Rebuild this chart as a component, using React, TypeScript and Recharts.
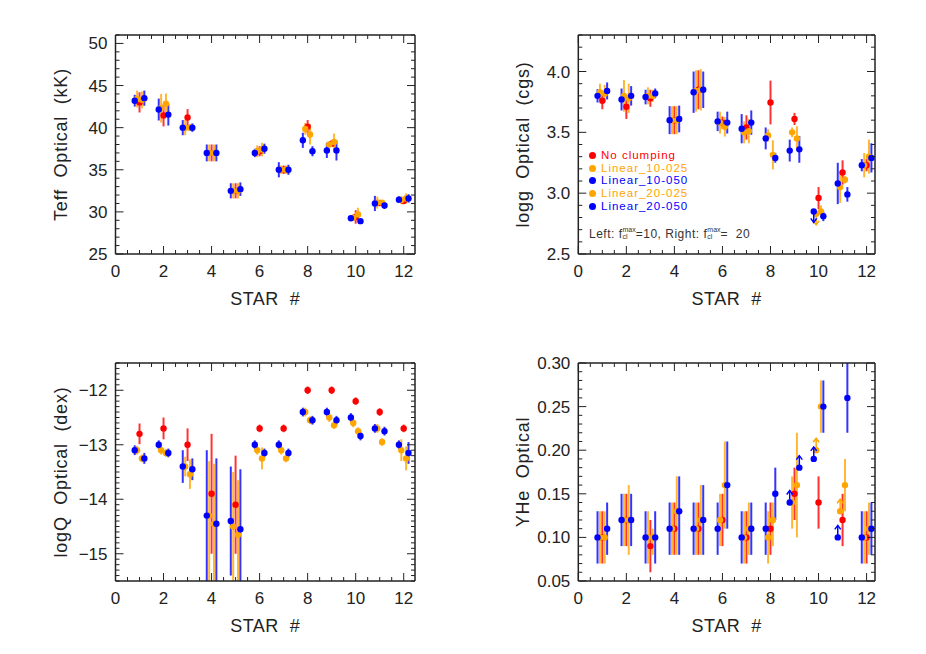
import React from 'react';
import { ScatterChart, Scatter, XAxis, YAxis, ErrorBar, Legend } from 'recharts';

type Err = number | [number, number];

const STARS = [1, 2, 3, 4, 5, 6, 7, 8, 9, 10, 11, 12];
const X_MAJOR = [0, 2, 4, 6, 8, 10, 12];

// model order = legend order
const MODELS = [
  { key: 'none', name: 'No clumping', color: '#ff0000', shift: 0 },
  { key: 'l10_025', name: 'Linear_10-025', color: '#ffa500', shift: -0.1 },
  { key: 'l10_050', name: 'Linear_10-050', color: '#0000ff', shift: -0.2 },
  { key: 'l20_025', name: 'Linear_20-025', color: '#ffa500', shift: 0.1 },
  { key: 'l20_050', name: 'Linear_20-050', color: '#0000ff', shift: 0.2 },
];

// Teff (kK)
const TEFF_TICKS = [25, 30, 35, 40, 45, 50];
const TEFF_NONE = [43.0, 41.45, 41.2, 37.0, 32.5, 37.2, 35.0, 40.1, 38.1, 29.4, 31.05, 31.3];
const TEFF_NONE_ERR: Err[] = [1.2, 1.3, 1.0, 1.0, 0.9, 0.6, 0.5, 0.8, 0.4, 0.8, 0.3, 0.3];
const TEFF_L10_025 = [43.4, 42.3, 40.0, 37.0, 32.5, 37.2, 35.0, 39.85, 38.0, 29.3, 31.1, 31.4];
const TEFF_L10_025_ERR: Err[] = [1.0, 1.7, 0.9, 1.0, 0.9, 0.7, 0.5, 0.7, 0.3, 0.4, 0.7, 0.5];
const TEFF_L10_050 = [43.2, 42.15, 40.0, 37.0, 32.5, 37.0, 35.0, 38.5, 37.3, 29.25, 31.0, 31.45];
const TEFF_L10_050_ERR: Err[] = [0.7, 1.3, 0.9, 1.0, 0.9, 0.5, 0.9, 0.9, 0.9, 0.2, 0.9, 0.4];
const TEFF_L20_025 = [43.3, 42.85, 40.0, 37.0, 32.5, 37.4, 35.0, 39.2, 38.3, 29.7, 31.1, 31.6];
const TEFF_L20_025_ERR: Err[] = [1.0, 1.2, 0.4, 1.0, 0.9, 0.8, 0.5, 1.2, 1.0, 0.8, 0.3, 0.6];
const TEFF_L20_050 = [43.5, 41.55, 40.0, 37.0, 32.7, 37.5, 35.0, 37.2, 37.3, 28.9, 30.75, 31.6];
const TEFF_L20_050_ERR: Err[] = [0.9, 1.3, 0.5, 1.0, 0.8, 0.6, 0.6, 0.6, 1.2, 0.2, 0.4, 0.5];

// log g (cgs)
const LOGG_TICKS = [2.5, 3.0, 3.5, 4.0];
const LOGG_NONE = [3.76, 3.71, 3.78, 3.6, 3.85, 3.58, 3.54, 3.745, 3.61, 2.96, 3.17, 3.23];
const LOGG_NONE_ERR: Err[] = [0.07, 0.1, 0.07, 0.115, 0.16, 0.05, 0.1, 0.18, 0.05, 0.09, 0.1, 0.05];
const LOGG_L10_025 = [3.83, 3.8, 3.8, 3.6, 3.84, 3.58, 3.5, 3.475, 3.5, 2.83, 3.05, 3.23];
const LOGG_L10_025_ERR: Err[] = [0.07, 0.13, 0.07, 0.115, 0.17, 0.09, 0.09, 0.05, 0.04, 0, 0.13, 0.1];
const LOGG_L10_050 = [3.8, 3.77, 3.79, 3.6, 3.83, 3.59, 3.53, 3.45, 3.35, 2.85, 3.08, 3.23];
const LOGG_L10_050_ERR: Err[] = [0.055, 0.09, 0.06, 0.115, 0.17, 0.08, 0.12, 0.09, 0.09, 0, 0.17, 0.05];
const LOGG_L20_025 = [3.82, 3.78, 3.8, 3.6, 3.85, 3.545, 3.51, 3.315, 3.45, 2.85, 3.11, 3.3];
const LOGG_L20_025_ERR: Err[] = [0.07, 0.12, 0.05, 0.115, 0.17, 0.08, 0.1, 0.12, 0.1, 0.05, 0.03, 0.14];
const LOGG_L20_050 = [3.84, 3.8, 3.82, 3.61, 3.85, 3.58, 3.58, 3.29, 3.36, 2.81, 2.99, 3.29];
const LOGG_L20_050_ERR: Err[] = [0.07, 0.08, 0.04, 0.11, 0.15, 0.09, 0.1, 0.04, 0.11, 0.04, 0.06, 0.12];
const LOGG_UPPER_L10_025 = [10];
const LOGG_UPPER_L10_050 = [10];

// log Q (dex)
const LOGQ_TICKS = [-15, -14, -13, -12];
const LOGQ_NONE = [-12.8, -12.7, -13.0, -13.9, -14.1, -12.7, -12.7, -12.0, -12.0, -12.2, -12.4, -12.7];
const LOGQ_NONE_ERR: Err[] = [0.19, 0.2, 0.3, 1.1, 0.9, 0.07, 0.07, 0.07, 0.07, 0.07, 0.07, 0.07];
const LOGQ_L10_025 = [-13.1, -13.1, -13.4, -14.3, -14.5, -13.1, -13.1, -12.4, -12.5, -12.6, -12.7, -13.1];
const LOGQ_L10_025_ERR: Err[] = [0.08, 0.08, 0.18, [1.2, 1.0], [1.0, 1.0], 0.08, 0.08, 0.08, 0.08, 0.08, 0.08, 0.2];
const LOGQ_L10_050 = [-13.1, -13.0, -13.4, -14.3, -14.4, -13.0, -13.0, -12.4, -12.4, -12.5, -12.7, -13.0];
const LOGQ_L10_050_ERR: Err[] = [0.09, 0.08, 0.3, [1.2, 1.2], [1.0, 1.0], 0.08, 0.08, 0.08, 0.08, 0.08, 0.08, 0.08];
const LOGQ_L20_025 = [-13.25, -13.15, -13.54, -14.45, -14.65, -13.25, -13.25, -12.55, -12.64, -12.75, -12.95, -13.25];
const LOGQ_L20_025_ERR: Err[] = [0.07, 0.07, 0.27, [1.05, 1.1], [0.85, 1.0], 0.2, 0.07, 0.07, 0.07, 0.07, 0.07, 0.22];
const LOGQ_L20_050 = [-13.25, -13.15, -13.45, -14.45, -14.55, -13.15, -13.15, -12.55, -12.55, -12.84, -12.75, -13.15];
const LOGQ_L20_050_ERR: Err[] = [0.1, 0.08, 0.2, [1.05, 1.2], [0.95, 1.1], 0.08, 0.08, 0.08, 0.08, 0.08, 0.08, 0.2];

// YHe
const YHE_TICKS = [0.05, 0.1, 0.15, 0.2, 0.25, 0.3];
const YHE_NONE = [0.1, 0.12, 0.09, 0.11, 0.11, 0.12, 0.1, 0.11, 0.15, 0.14, 0.12, 0.1];
const YHE_NONE_ERR: Err[] = [0.03, 0.03, 0.03, 0.03, 0.03, 0.03, 0.03, 0.03, 0.03, 0.03, 0.03, 0.03];
const YHE_L10_025 = [0.1, 0.12, 0.1, 0.11, 0.11, 0.12, 0.1, 0.1, 0.14, 0.2, 0.13, 0.1];
const YHE_L10_025_ERR: Err[] = [0.03, 0.03, 0.03, 0.03, 0.03, 0.03, 0.03, 0.03, 0.03, 0, 0, 0.03];
const YHE_L10_050 = [0.1, 0.12, 0.1, 0.11, 0.11, 0.11, 0.1, 0.11, 0.14, 0.19, 0.1, 0.1];
const YHE_L10_050_ERR: Err[] = [0.03, 0.03, 0.03, 0.03, 0.03, 0.03, 0.03, 0.03, 0, 0, 0, 0.03];
const YHE_L20_025 = [0.1, 0.12, 0.1, 0.13, 0.12, 0.16, 0.11, 0.12, 0.16, 0.25, 0.16, 0.11];
const YHE_L20_025_ERR: Err[] = [0.03, 0.04, [0.02, 0.01], [0.05, 0.04], 0.04, 0.05, 0.03, [0.03, 0.02], 0.06, 0.03, 0.03, 0.03];
const YHE_L20_050 = [0.11, 0.12, 0.1, 0.13, 0.12, 0.16, 0.11, 0.15, 0.18, 0.25, 0.26, 0.11];
const YHE_L20_050_ERR: Err[] = [0.03, 0.03, 0.03, [0.05, 0.04], 0.04, 0.05, 0.03, 0.03, 0, 0.03, [0.04, 0.04], 0.03];
const YHE_LOWER_L10_025 = [10, 11];
const YHE_LOWER_L10_050 = [9, 10, 11];
const YHE_LOWER_L20_050 = [9];

const AXIS = '#222';
const FONT = '"Liberation Sans", Arial, sans-serif';

function range(lo: number, hi: number, step: number) {
  const out: number[] = [];
  const n = Math.round((hi - lo) / step);
  for (let i = 0; i <= n; i++) out.push(Math.round((lo + i * step) * 1e4) / 1e4);
  return out;
}

const isIn = (v: number, list: number[]) => list.some((m) => Math.abs(m - v) < 1e-6);

const X_TICKS = range(0, 12, 0.5);

function makeXTick(side: 'bottom' | 'top') {
  return (props: any) => {
    const { x, y, payload } = props;
    const v = payload.value;
    const major = isIn(v, X_MAJOR);
    const len = major ? 8 : 4;
    const dir = side === 'bottom' ? -1 : 1;
    return (
      <g>
        <line x1={x} x2={x} y1={y} y2={y + dir * len} stroke={AXIS} strokeWidth={1} />
        {side === 'bottom' && major && (
          <text x={x} y={y + 23} textAnchor="middle" fontSize={17} fontFamily={FONT} fill={AXIS}>
            {v}
          </text>
        )}
      </g>
    );
  };
}

function makeYTick(side: 'left' | 'right', majors: number[], fmt: (v: number) => string) {
  return (props: any) => {
    const { x, y, payload } = props;
    const v = payload.value;
    const major = isIn(v, majors);
    const len = major ? 8 : 4;
    const dir = side === 'left' ? 1 : -1;
    return (
      <g>
        <line x1={x} x2={x + dir * len} y1={y} y2={y} stroke={AXIS} strokeWidth={1} />
        {side === 'left' && major && (
          <text x={x - 8} y={y + 6} textAnchor="end" fontSize={17} fontFamily={FONT} fill={AXIS}>
            {fmt(v)}
          </text>
        )}
      </g>
    );
  };
}

function buildData(values: number[], errs: Err[], shift: number, upper: number[] = [], lower: number[] = []) {
  return STARS.map((s, i) => ({
    x: s + shift,
    y: values[i],
    err: errs[i],
    limit: upper.includes(s) ? 'upper' : lower.includes(s) ? 'lower' : null,
  }));
}

function PointShape(props: any) {
  const { cx, cy, fill, payload } = props;
  if (cx == null || cy == null) return null;
  const limit = payload?.limit;
  return (
    <g>
      {limit === 'upper' && (
        <g stroke={fill} strokeWidth={1.5} fill="none">
          <line x1={cx} x2={cx} y1={cy} y2={cy + 11} />
          <polyline points={`${cx - 3},${cy + 7} ${cx},${cy + 11} ${cx + 3},${cy + 7}`} />
        </g>
      )}
      {limit === 'lower' && (
        <g stroke={fill} strokeWidth={1.5} fill="none">
          <line x1={cx} x2={cx} y1={cy} y2={cy - 12} />
          <polyline points={`${cx - 3},${cy - 8} ${cx},${cy - 12} ${cx + 3},${cy - 8}`} />
        </g>
      )}
      <circle cx={cx} cy={cy} r={3.2} fill={fill} />
    </g>
  );
}

const NoShape = () => <g />;

type PanelCfg = {
  title: string;
  left: number;
  top: number;
  plotTop: number;
  yAxisWidth: number;
  marginRight: number;
  xMax: number;
  domain: [number, number];
  majors: number[];
  minorStep: number;
  fmt: (v: number) => string;
  series: Record<string, ReturnType<typeof buildData>>;
  legend?: boolean;
};

const PANELS: PanelCfg[] = [
  {
    title: 'Teff  Optical  (kK)',
    left: 0, top: 0, plotTop: 35, yAxisWidth: 115.5, marginRight: 48, xMax: 12.47,
    domain: [25, 51], majors: TEFF_TICKS, minorStep: 1, fmt: (v) => String(v),
    series: {
      none: buildData(TEFF_NONE, TEFF_NONE_ERR, 0),
      l10_025: buildData(TEFF_L10_025, TEFF_L10_025_ERR, -0.1),
      l10_050: buildData(TEFF_L10_050, TEFF_L10_050_ERR, -0.2),
      l20_025: buildData(TEFF_L20_025, TEFF_L20_025_ERR, 0.1),
      l20_050: buildData(TEFF_L20_050, TEFF_L20_050_ERR, 0.2),
    },
  },
  {
    title: 'logg  Optical  (cgs)',
    left: 463, top: 0, plotTop: 35, yAxisWidth: 115.3, marginRight: 51, xMax: 12.35,
    domain: [2.5, 4.3], majors: LOGG_TICKS, minorStep: 0.1, fmt: (v) => v.toFixed(1),
    series: {
      none: buildData(LOGG_NONE, LOGG_NONE_ERR, 0),
      l10_025: buildData(LOGG_L10_025, LOGG_L10_025_ERR, -0.1, LOGG_UPPER_L10_025),
      l10_050: buildData(LOGG_L10_050, LOGG_L10_050_ERR, -0.2, LOGG_UPPER_L10_050),
      l20_025: buildData(LOGG_L20_025, LOGG_L20_025_ERR, 0.1),
      l20_050: buildData(LOGG_L20_050, LOGG_L20_050_ERR, 0.2),
    },
    legend: true,
  },
  {
    title: 'logQ  Optical  (dex)',
    left: 0, top: 327, plotTop: 36, yAxisWidth: 115.5, marginRight: 48, xMax: 12.47,
    domain: [-15.5, -11.5], majors: LOGQ_TICKS, minorStep: 0.1, fmt: (v) => '\u2212' + Math.abs(v),
    series: {
      none: buildData(LOGQ_NONE, LOGQ_NONE_ERR, 0),
      l10_025: buildData(LOGQ_L10_025, LOGQ_L10_025_ERR, -0.1),
      l10_050: buildData(LOGQ_L10_050, LOGQ_L10_050_ERR, -0.2),
      l20_025: buildData(LOGQ_L20_025, LOGQ_L20_025_ERR, 0.1),
      l20_050: buildData(LOGQ_L20_050, LOGQ_L20_050_ERR, 0.2),
    },
  },
  {
    title: 'YHe  Optical',
    left: 463, top: 327, plotTop: 36, yAxisWidth: 115.3, marginRight: 51, xMax: 12.35,
    domain: [0.05, 0.3], majors: YHE_TICKS, minorStep: 0.01, fmt: (v) => v.toFixed(2),
    series: {
      none: buildData(YHE_NONE, YHE_NONE_ERR, 0),
      l10_025: buildData(YHE_L10_025, YHE_L10_025_ERR, -0.1, [], YHE_LOWER_L10_025),
      l10_050: buildData(YHE_L10_050, YHE_L10_050_ERR, -0.2, [], YHE_LOWER_L10_050),
      l20_025: buildData(YHE_L20_025, YHE_L20_025_ERR, 0.1),
      l20_050: buildData(YHE_L20_050, YHE_L20_050_ERR, 0.2, [], YHE_LOWER_L20_050),
    },
  },
];

function LegendBox() {
  return (
    <div style={{ fontFamily: FONT, fontSize: 11.5, lineHeight: '12.7px', whiteSpace: 'nowrap' }}>
      {MODELS.map((m) => (
        <div key={m.key} style={{ display: 'flex', alignItems: 'center', height: 12.7 }}>
          <span style={{ width: 7, height: 7, borderRadius: 4, background: m.color, display: 'inline-block', marginRight: 5 }} />
          <span style={{ color: m.color, letterSpacing: 1 }}>{m.name}</span>
        </div>
      ))}
      <div style={{ marginTop: 16, color: '#333', fontSize: 12, display: 'flex', alignItems: 'center', letterSpacing: 0.5 }}>
        <span>Left: f</span>
        <span style={{ display: 'inline-flex', flexDirection: 'column', fontSize: 7, lineHeight: '7px', marginTop: -3, letterSpacing: 0 }}>
          <span>max</span>
          <span>cl</span>
        </span>
        <span>=10, Right: f</span>
        <span style={{ display: 'inline-flex', flexDirection: 'column', fontSize: 7, lineHeight: '7px', marginTop: -3, letterSpacing: 0 }}>
          <span>max</span>
          <span>cl</span>
        </span>
        <span>=&nbsp; 20</span>
      </div>
    </div>
  );
}

function Panel({ cfg }: { cfg: PanelCfg }) {
  const yTicks = range(cfg.domain[0], cfg.domain[1], cfg.minorStep);
  return (
    <div style={{ position: 'absolute', left: cfg.left, top: cfg.top }}>
      <ScatterChart
        width={463}
        height={327}
        margin={{ top: cfg.plotTop - 1, right: cfg.marginRight - 1, bottom: 0, left: 0 }}
      >
        <XAxis
          xAxisId="b"
          type="number"
          dataKey="x"
          domain={[0, cfg.xMax]}
          ticks={X_TICKS}
          interval={0}
          tickSize={0}
          tickMargin={0}
          height={73}
          allowDataOverflow
          axisLine={{ stroke: AXIS, strokeWidth: 1.5 }}
          tick={makeXTick('bottom')}
          label={{
            content: (p: any) => {
              const vb = p.viewBox || {};
              return (
                <text x={vb.x + vb.width / 2} y={vb.y + 51} textAnchor="middle" fontSize={18} fontFamily={FONT} fill={AXIS} style={{ whiteSpace: 'pre' }} letterSpacing={0.5}>
                  {'STAR  #'}
                </text>
              );
            },
          }}
        />
        <XAxis
          xAxisId="t"
          orientation="top"
          type="number"
          dataKey="x"
          domain={[0, cfg.xMax]}
          ticks={X_TICKS}
          interval={0}
          tickSize={0}
          tickMargin={0}
          height={1}
          allowDataOverflow
          axisLine={{ stroke: AXIS, strokeWidth: 1.5 }}
          tick={makeXTick('top')}
        />
        <YAxis
          yAxisId="l"
          type="number"
          dataKey="y"
          domain={cfg.domain}
          ticks={yTicks}
          interval={0}
          tickSize={0}
          tickMargin={0}
          width={cfg.yAxisWidth}
          allowDataOverflow
          axisLine={{ stroke: AXIS, strokeWidth: 1.5 }}
          tick={makeYTick('left', cfg.majors, cfg.fmt)}
          label={{
            content: (p: any) => {
              const vb = p.viewBox || {};
              const cx = vb.x + vb.width - 55;
              const cy = vb.y + vb.height / 2;
              return (
                <text
                  x={cx}
                  y={cy}
                  transform={`rotate(-90 ${cx} ${cy})`}
                  textAnchor="middle"
                  dominantBaseline="central"
                  fontSize={18}
                  fontFamily={FONT}
                  fill={AXIS}
                  letterSpacing={0.8}
                  style={{ whiteSpace: 'pre' }}
                >
                  {cfg.title}
                </text>
              );
            },
          }}
        />
        <YAxis
          yAxisId="r"
          orientation="right"
          type="number"
          dataKey="y"
          domain={cfg.domain}
          ticks={yTicks}
          interval={0}
          tickSize={0}
          tickMargin={0}
          width={1}
          allowDataOverflow
          axisLine={{ stroke: AXIS, strokeWidth: 1.5 }}
          tick={makeYTick('right', cfg.majors, cfg.fmt)}
        />
        {/* invisible series so the top and right frame axes get a scale */}
        <Scatter
          xAxisId="t"
          yAxisId="r"
          data={cfg.series.none}
          shape={NoShape}
          legendType="none"
          isAnimationActive={false}
        />
        {MODELS.map((m) => (
          <Scatter
            key={m.key}
            name={m.name}
            xAxisId="b"
            yAxisId="l"
            data={cfg.series[m.key]}
            fill={m.color}
            shape={PointShape}
            isAnimationActive={false}
          >
            <ErrorBar
              dataKey="err"
              direction="y"
              width={0}
              stroke={m.color}
              strokeWidth={2}
              strokeOpacity={0.8}
              isAnimationActive={false}
            />
          </Scatter>
        ))}
        {cfg.legend && (
          <Legend
            layout="vertical"
            align="center"
            verticalAlign="middle"
            wrapperStyle={{ left: 126, top: 149, width: 'auto' }}
            content={() => <LegendBox />}
          />
        )}
      </ScatterChart>
    </div>
  );
}

export default function App() {
  return (
    <div style={{ position: 'absolute', left: 0, top: 0, width: 926, height: 654, background: '#fff' }}>
      {PANELS.map((p) => (
        <Panel key={p.title} cfg={p} />
      ))}
    </div>
  );
}
